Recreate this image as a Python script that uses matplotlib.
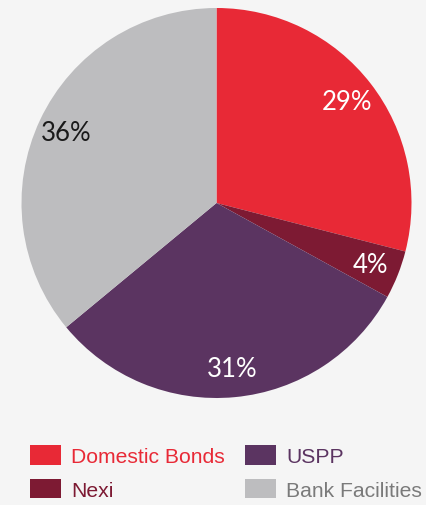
import matplotlib.pyplot as plt

labels = ["Domestic Bonds", "Nexi", "USPP", "Bank Facilities"]
values = [29, 4, 31, 36]
colors = ["#E82936", "#7D1A33", "#5B3461", "#BDBDBF"]
text_colors = ["#E82936", "#7D1A33", "#5B3461", "#7A7A7A"]
pct_colors = ["white", "white", "white", "#1a1a1a"]

W, H = 426, 506
fig = plt.figure(figsize=(W / 100, H / 100), dpi=100, facecolor="#F5F5F5")

cx, cy, r = 216.5, 204, 195
ax = fig.add_axes([(cx - r) / W, 1 - (cy + r) / H, 2 * r / W, 2 * r / H])
ax.set_facecolor("#F5F5F5")

wedges, _, autotexts = ax.pie(values, colors=colors, startangle=90, counterclock=False,
                              autopct="%d%%", pctdistance=0.85, radius=1,
                              wedgeprops=dict(linewidth=0))
for t, c in zip(autotexts, pct_colors):
    t.set_color(c)
    t.set_fontsize(18.5)
    t.set_fontfamily("Lato")
    t.set_fontweight("normal")
ax.set_xlim(-1, 1)
ax.set_ylim(-1, 1)
ax.set_aspect("equal")
ax.axis("off")

leg = fig.legend(wedges, labels, ncol=2, loc="upper left",
                 bbox_to_anchor=(30 / W, 1 - 446 / H), frameon=False,
                 prop=dict(family="Liberation Sans", size=15.2),
                 handlelength=1.45, handleheight=1.05, handletextpad=0.5,
                 columnspacing=0.95, labelspacing=0.6, borderpad=0, borderaxespad=0)
for txt, c in zip(leg.get_texts(), text_colors):
    txt.set_color(c)

fig.savefig("out.png", dpi=100, facecolor=fig.get_facecolor())
